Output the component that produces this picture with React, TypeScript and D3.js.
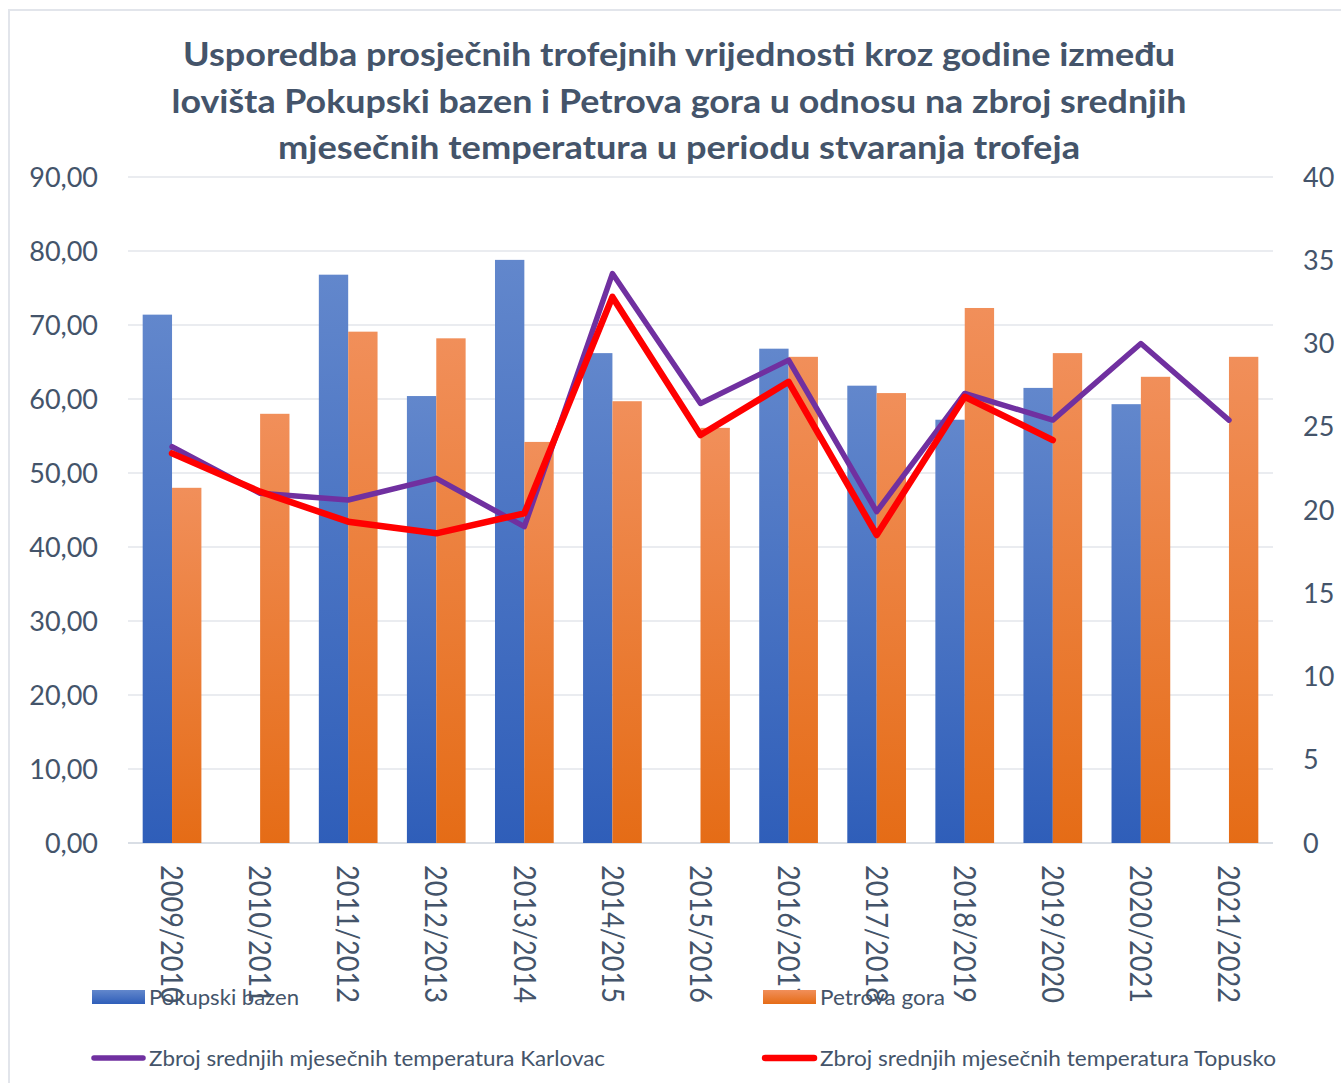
import React from "react";
import * as d3 from "d3";

const categories = ["2009/2010","2010/2011","2011/2012","2012/2013","2013/2014","2014/2015","2015/2016","2016/2017","2017/2018","2018/2019","2019/2020","2020/2021","2021/2022"];
const pokupski: (number|null)[] = [71.4,null,76.8,60.4,78.8,66.2,null,66.8,61.8,57.2,61.5,59.3,null];
const petrova: (number|null)[] = [48.0,58.0,69.1,68.2,54.2,59.7,56.1,65.7,60.8,72.3,66.2,63.0,65.7];
const karlovac: (number|null)[] = [23.8,21.0,20.6,21.9,19.0,34.2,26.4,29.0,19.9,27.0,25.4,30.0,25.4];
const topusko: (number|null)[] = [23.4,21.1,19.3,18.6,19.8,32.8,24.5,27.7,18.5,26.8,24.2,null,null];
const leftTicks = [0,10,20,30,40,50,60,70,80,90];
const rightTicks = [0,5,10,15,20,25,30,35,40];
const titleLines = [
  "Usporedba prosječnih trofejnih vrijednosti kroz godine između",
  "lovišta Pokupski bazen i Petrova gora u odnosu na zbroj srednjih",
  "mjesečnih temperatura u periodu stvaranja trofeja",
];
const titleWidths = [992, 1015, 802];

export default function App() {
  const W = 1341, H = 1083;
  const left = 128, right = 1273, top = 177, bottom = 843;
  const textColor = "#44546A";
  const x0 = d3.scaleBand<string>().domain(categories).range([left, right]).padding(0);
  const step = x0.step();
  const x1 = d3.scaleBand<string>().domain(["p", "q"]).range([step / 6, step * 5 / 6]).padding(0);
  const yL = d3.scaleLinear().domain([0, 90]).range([bottom, top]);
  const yR = d3.scaleLinear().domain([0, 40]).range([bottom, top]);
  const fmt = (v: number) => v.toFixed(2).replace(".", ",");

  const line = d3.line<number | null>()
    .defined((d) => d != null)
    .x((_, i) => (x0(categories[i]) as number) + step / 2)
    .y((d) => yR(d as number));

  const font = "Lato, 'Open Sans', sans-serif";

  return (
    <svg width={W} height={H} style={{ position: "absolute", left: 0, top: 0, background: "#fff" }} fontFamily={font}>
      <defs>
        <linearGradient id="gBlue" x1="0" y1="0" x2="0" y2="1">
          <stop offset="0" stopColor="#6287CC" />
          <stop offset="1" stopColor="#2F5EB9" />
        </linearGradient>
        <linearGradient id="gOrange" x1="0" y1="0" x2="0" y2="1">
          <stop offset="0" stopColor="#F18F5A" />
          <stop offset="1" stopColor="#E56C16" />
        </linearGradient>
      </defs>
      <rect x={9} y={10} width={W} height={H} fill="#fff" stroke="#E2E5EB" strokeWidth={2} />

      {titleLines.map((t, i) => (
        <text key={i} x={679} y={66 + i * 46.5} textAnchor="middle" fontSize={32} fontWeight="bold" fill={textColor}
          textLength={titleWidths[i]} lengthAdjust="spacingAndGlyphs">{t}</text>
      ))}

      {leftTicks.map((t) => (
        <g key={t}>
          <line x1={left} x2={right} y1={yL(t)} y2={yL(t)} stroke={t === 0 ? "#D9DEE5" : "#E3E6EB"} strokeWidth={t === 0 ? 2 : 1.5} />
          <text x={98} y={yL(t)} dy="0.36em" textAnchor="end" fontSize={27} fill={textColor}>{fmt(t)}</text>
        </g>
      ))}
      {rightTicks.map((t) => (
        <text key={t} x={1303} y={yR(t)} dy="0.36em" textAnchor="start" fontSize={27} fill={textColor}>{t}</text>
      ))}

      {categories.map((c, i) => {
        const bx = x0(c) as number;
        const p = pokupski[i];
        const q = petrova[i];
        return (
          <g key={c}>
            {p != null && (
              <rect x={bx + (x1("p") as number)} y={yL(p)} width={x1.bandwidth()} height={bottom - yL(p)} fill="url(#gBlue)" />
            )}
            {q != null && (
              <rect x={bx + (x1("q") as number)} y={yL(q)} width={x1.bandwidth()} height={bottom - yL(q)} fill="url(#gOrange)" />
            )}
          </g>
        );
      })}

      <path d={line(karlovac) || ""} fill="none" stroke="#7030A0" strokeWidth={5.5} strokeLinejoin="round" strokeLinecap="round" />
      <path d={line(topusko) || ""} fill="none" stroke="#FF0000" strokeWidth={6.5} strokeLinejoin="round" strokeLinecap="round" />

      {categories.map((c) => {
        const cx = (x0(c) as number) + step / 2;
        return (
          <text key={c} transform={`translate(${cx},865) rotate(90)`} dy="0.36em" fontSize={30} fill={textColor}
            textLength={138} lengthAdjust="spacingAndGlyphs">{c}</text>
        );
      })}

      <g fontSize={21} fill={textColor}>
        <rect x={92} y={990} width={53} height={14} fill="url(#gBlue)" />
        <text x={149} y={997} dy="0.36em" textLength={150} lengthAdjust="spacingAndGlyphs">Pokupski bazen</text>
        <rect x={763} y={990} width={53} height={14} fill="url(#gOrange)" />
        <text x={820} y={997} dy="0.36em" textLength={125} lengthAdjust="spacingAndGlyphs">Petrova gora</text>
        <line x1={94} x2={143} y1={1058} y2={1058} stroke="#7030A0" strokeWidth={5.5} strokeLinecap="round" />
        <text x={149} y={1058} dy="0.36em" textLength={456} lengthAdjust="spacingAndGlyphs">Zbroj srednjih mjesečnih temperatura Karlovac</text>
        <line x1={765} x2={814} y1={1058} y2={1058} stroke="#FF0000" strokeWidth={6.5} strokeLinecap="round" />
        <text x={820} y={1058} dy="0.36em" textLength={456} lengthAdjust="spacingAndGlyphs">Zbroj srednjih mjesečnih temperatura Topusko</text>
      </g>
    </svg>
  );
}
